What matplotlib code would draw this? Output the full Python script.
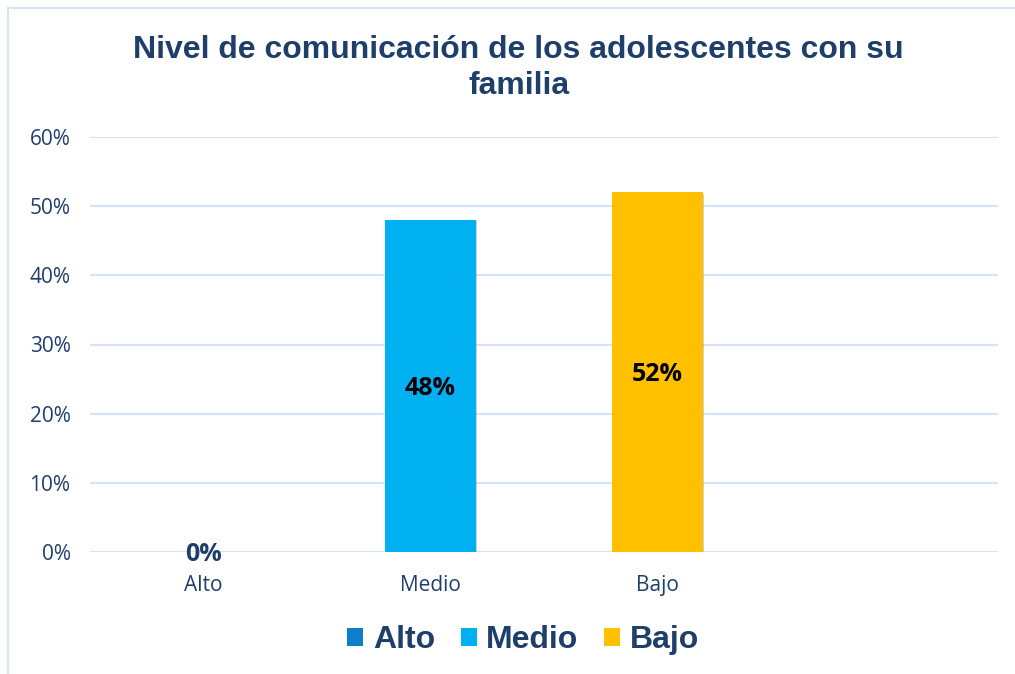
import numpy as np
import matplotlib.pyplot as plt
from matplotlib import patheffects as pe
from matplotlib.patches import Rectangle, Patch

# data
categories = ["Alto", "Medio", "Bajo"]
values = [0.0, 0.48, 0.52]
labels = ["0%", "48%", "52%"]
colors = ["#0B7FC7", "#00B0F0", "#FFC000"]
yticks = [0.0, 0.1, 0.2, 0.3, 0.4, 0.5, 0.6]

navy = "#1F3F6B"
grid_col = "#D6E3F3"

fig = plt.figure(figsize=(10.15, 6.74), dpi=100)
fig.patch.set_facecolor("white")

# outer chart border
fig.patches.append(
    Rectangle((8 / 1015, -0.05), 1.2, (674 - 8) / 674 + 0.05,
              transform=fig.transFigure, fill=False, edgecolor="#D6E3F3", lw=1.5)
)

ax = fig.add_axes([90 / 1015, 1 - 552 / 674, (998 - 90) / 1015, (552 - 137) / 674])

x = np.arange(len(categories))
shadow = [pe.SimplePatchShadow(offset=(1, -1), shadow_rgbFace="#999999", alpha=0.45), pe.Normal()]
for i in range(len(categories)):
    ax.bar(x[i], values[i], width=0.4, color=colors[i], zorder=3, path_effects=shadow)

for i in range(len(categories)):
    if values[i] > 0:
        ax.text(x[i], values[i] / 2 - 0.004, labels[i], ha="center", va="center",
                fontsize=18, fontweight="bold", color="black", family="Open Sans", zorder=4)
    else:
        ax.text(x[i], -0.004, labels[i], ha="center", va="center",
                fontsize=18, fontweight="bold", color=navy, family="Open Sans", zorder=4,
                clip_on=False)

ax.set_xlim(-0.5, 3.5)
ax.set_ylim(0, 0.6)
ax.set_yticks(yticks)
ax.set_yticklabels([f"{int(round(t * 100))}%" for t in yticks])
ax.set_xticks(x)
ax.set_xticklabels(categories)
ax.tick_params(axis="both", length=0, labelsize=15, labelcolor=navy)
ax.tick_params(axis="y", pad=14)
ax.tick_params(axis="x", pad=16.5)
for lab in ax.get_xticklabels() + ax.get_yticklabels():
    lab.set_family("Open Sans")

ax.grid(axis="y", color=grid_col, lw=1.5, zorder=0)
for s in ax.spines.values():
    s.set_visible(False)
ax.set_axisbelow(True)

fig.text(0.511, 1 - 68 / 674,
         "Nivel de comunicación de los adolescentes con su\nfamilia",
         ha="center", va="center", fontsize=23, fontweight="bold",
         color=navy, family="Liberation Sans", linespacing=1.3)

handles = [Patch(facecolor=c, edgecolor="none", label=l) for c, l in zip(colors, categories)]
leg = fig.legend(handles=handles, loc="center", bbox_to_anchor=(523 / 1015, 1 - 640 / 674), ncol=3,
                 frameon=False, handlelength=0.5, handleheight=0.5, handletextpad=0.3,
                 columnspacing=0.8,
                 prop={"family": "Liberation Sans", "weight": "bold", "size": 23})
for t in leg.get_texts():
    t.set_color(navy)

fig.savefig("out.png", dpi=100)
